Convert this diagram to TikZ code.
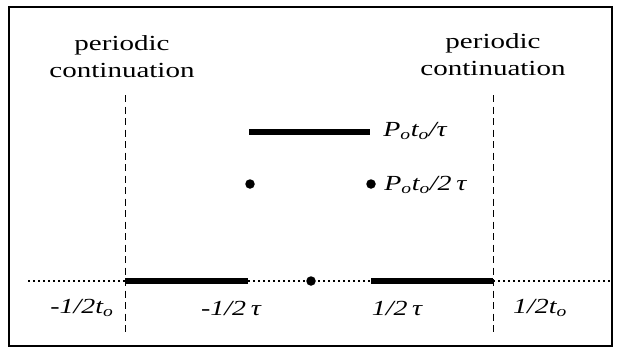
\documentclass[tikz,border=0pt]{standalone}
\usepackage{fontspec}
\setmainfont{Liberation Serif}
\begin{document}
\begin{tikzpicture}[x=1pt,y=-1pt,
  lbl/.style={inner sep=0pt,font=\fontsize{21.5}{27}\selectfont,align=center,xscale=1.35,transform shape},
  ilbl/.style={inner sep=0pt,font=\fontsize{21.5}{26}\selectfont\itshape,xscale=1.3,transform shape},
  bar/.style={line width=6pt},
  vdash/.style={line width=0.8pt,dash pattern=on 7pt off 4.5pt},
  axis/.style={line width=1.6pt,dash pattern=on 1.6pt off 3.4pt},
  dotnode/.style={circle,fill=black,inner sep=0pt,minimum size=9.5pt}]
\useasboundingbox (0,0) rectangle (619,349);
\draw[line width=2.5pt] (9,7) rectangle (612,346);
% axis
\coordinate (axL) at (28,281);
\coordinate (axR) at (610,281);
\draw[axis] (axL) -- (axR);
% dashed verticals
\coordinate (dlT) at (125,95);
\coordinate (dlB) at (125,334);
\coordinate (drT) at (493,95);
\coordinate (drB) at (493,334);
\draw[vdash] (dlT) -- (dlB);
\draw[vdash] (drT) -- (drB);
% bottom thick bars
\coordinate (b1) at (125,281);
\coordinate (b2) at (248,281);
\coordinate (b3) at (371,281);
\coordinate (b4) at (493,281);
\draw[bar] (b1) -- (b2);
\draw[bar] (b3) -- (b4);
% top bar
\coordinate (t1) at (249,132);
\coordinate (t2) at (370,132);
\draw[bar] (t1) -- (t2);
% dots
\node[dotnode] (d1) at (250,184) {};
\node[dotnode] (d2) at (371,184) {};
\node[dotnode] (d0) at (311,281) {};
% labels
\node[lbl] (pcl) at (122,57) {periodic\\continuation};
\node[lbl] (pcr) at (493,55) {periodic\\continuation};
\node[ilbl,anchor=west] (ptau) at (383,131) {P\textsubscript{o}t\textsubscript{o}/τ};
\node[ilbl,anchor=west] (p2tau) at (384,185) {P\textsubscript{o}t\textsubscript{o}/2\,τ};
\node[ilbl] (l1) at (82,308) {-1/2t\textsubscript{o}};
\node[ilbl] (l2) at (231,308) {-1/2\,τ};
\node[ilbl] (l3) at (397,308) {1/2\,τ};
\node[ilbl] (l4) at (540,308) {1/2t\textsubscript{o}};
\end{tikzpicture}
\end{document}
